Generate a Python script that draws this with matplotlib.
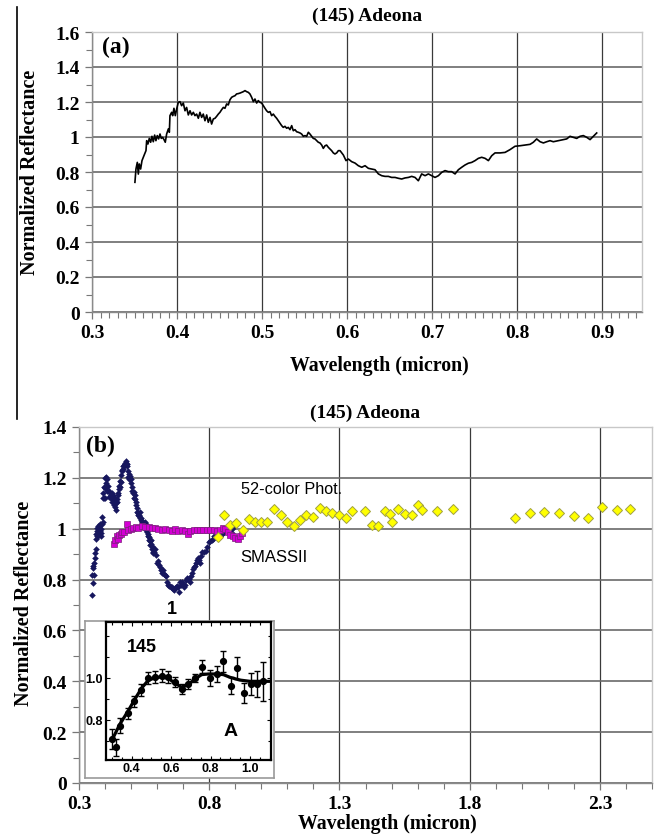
import matplotlib
matplotlib.use("Agg")
import matplotlib.pyplot as plt
from matplotlib.ticker import MultipleLocator, FixedLocator, FuncFormatter
import numpy as np

# ---------------- data ----------------
# (145) Adeona visible spectrum (panel a line, panel b blue diamonds)
spec_wl = [0.3505, 0.3517, 0.3533, 0.3545, 0.3556, 0.3572, 0.3588, 0.3603, 0.3619, 0.3635,
           0.3643, 0.3658, 0.3674, 0.3690, 0.3705, 0.3721, 0.3737, 0.3752, 0.3768, 0.3784,
           0.3800, 0.3815, 0.3831, 0.3847, 0.3862, 0.3878, 0.3898, 0.3910, 0.3917, 0.3937,
           0.3949, 0.3964, 0.3980, 0.3996, 0.4015, 0.4035, 0.4054, 0.4074, 0.4094, 0.4113,
           0.4133, 0.4153, 0.4172, 0.4192, 0.4211, 0.4231, 0.4251, 0.4270, 0.4290, 0.4309,
           0.4329, 0.4349, 0.4368, 0.4388, 0.4407, 0.4427, 0.4447, 0.4466, 0.4486, 0.4505,
           0.4525, 0.4545, 0.4564, 0.4584, 0.4603, 0.4623, 0.4643, 0.4662, 0.4682, 0.4701,
           0.4721, 0.4741, 0.4760, 0.4780, 0.4800, 0.4819, 0.4839, 0.4858, 0.4878, 0.4898,
           0.4917, 0.4937, 0.4956, 0.4976, 0.4996, 0.5015, 0.5035, 0.5054, 0.5074, 0.5094,
           0.5113, 0.5133, 0.5152, 0.5172, 0.5192, 0.5211, 0.5231, 0.5250, 0.5270, 0.5290,
           0.5309, 0.5329, 0.5349, 0.5368, 0.5388, 0.5407, 0.5427, 0.5447, 0.5466, 0.5486,
           0.5505, 0.5525, 0.5545, 0.5564, 0.5584, 0.5603, 0.5623, 0.5643, 0.5662, 0.5682,
           0.5702, 0.5721, 0.5741, 0.5760, 0.5780, 0.5800, 0.5819, 0.5839, 0.5858, 0.5878,
           0.5898, 0.5918, 0.5957, 0.5988, 0.6016, 0.6055, 0.6094, 0.6133, 0.6173, 0.6212,
           0.6251, 0.6290, 0.6329, 0.6369, 0.6408, 0.6447, 0.6486, 0.6525, 0.6565, 0.6604,
           0.6643, 0.6682, 0.6722, 0.6761, 0.6800, 0.6839, 0.6878, 0.6918, 0.6957, 0.6996,
           0.7035, 0.7075, 0.7114, 0.7153, 0.7192, 0.7231, 0.7271, 0.7310, 0.7349, 0.7388,
           0.7427, 0.7467, 0.7506, 0.7545, 0.7584, 0.7624, 0.7663, 0.7702, 0.7741, 0.7800,
           0.7859, 0.7918, 0.7976, 0.8035, 0.8094, 0.8153, 0.8192, 0.8231, 0.8271, 0.8310,
           0.8349, 0.8388, 0.8427, 0.8486, 0.8545, 0.8584, 0.8623, 0.8663, 0.8702, 0.8741,
           0.8780, 0.8820, 0.8859, 0.8898, 0.8937]
spec_refl = [0.741, 0.817, 0.855, 0.788, 0.846, 0.817, 0.865, 0.884, 0.903, 0.922,
             0.979, 0.960, 0.992, 0.970, 1.004, 0.973, 1.011, 0.979, 1.008, 0.989,
             1.017, 0.992, 0.998, 0.985, 0.970, 1.017, 1.046, 1.027, 1.122, 1.141,
             1.122, 1.164, 1.122, 1.160, 1.198, 1.202, 1.179, 1.194, 1.150, 1.169,
             1.126, 1.150, 1.126, 1.141, 1.122, 1.131, 1.107, 1.141, 1.112, 1.131,
             1.093, 1.126, 1.084, 1.112, 1.074, 1.103, 1.107, 1.118, 1.131, 1.141,
             1.156, 1.169, 1.164, 1.189, 1.183, 1.213, 1.227, 1.232, 1.236, 1.246,
             1.248, 1.251, 1.255, 1.259, 1.265, 1.259, 1.255, 1.246, 1.227, 1.202,
             1.217, 1.194, 1.208, 1.198, 1.194, 1.179, 1.164, 1.150, 1.141, 1.145,
             1.122, 1.131, 1.118, 1.107, 1.093, 1.080, 1.065, 1.055, 1.061, 1.050,
             1.055, 1.042, 1.065, 1.036, 1.042, 1.030, 1.027, 1.023, 1.017, 1.004,
             1.008, 1.004, 1.027, 1.017, 1.004, 0.992, 0.989, 0.979, 0.970, 0.966,
             0.954, 0.935, 0.950, 0.954, 0.941, 0.931, 0.922, 0.909, 0.903, 0.909,
             0.922, 0.922, 0.897, 0.865, 0.874, 0.859, 0.851, 0.836, 0.827, 0.836,
             0.821, 0.817, 0.813, 0.789, 0.779, 0.775, 0.775, 0.769, 0.769, 0.764,
             0.760, 0.766, 0.769, 0.775, 0.769, 0.750, 0.789, 0.779, 0.789, 0.779,
             0.769, 0.779, 0.798, 0.808, 0.802, 0.802, 0.789, 0.813, 0.827, 0.840,
             0.850, 0.855, 0.865, 0.878, 0.884, 0.878, 0.865, 0.893, 0.909, 0.909,
             0.912, 0.928, 0.947, 0.950, 0.954, 0.958, 0.970, 0.989, 0.973, 0.966,
             0.973, 0.979, 0.973, 0.979, 0.985, 0.989, 1.004, 0.998, 0.992, 1.004,
             1.008, 0.998, 0.985, 1.004, 1.023]

# SMASSII (magenta squares)
smass_wl = [0.436, 0.440, 0.445, 0.449, 0.454, 0.460, 0.467, 0.474, 0.483, 0.490,
            0.499, 0.509, 0.519, 0.528, 0.541, 0.554, 0.567, 0.580, 0.592, 0.605,
            0.618, 0.631, 0.644, 0.656, 0.669, 0.682, 0.695, 0.708, 0.717, 0.727,
            0.740, 0.753, 0.765, 0.778, 0.791, 0.804, 0.817, 0.830, 0.842, 0.852,
            0.862, 0.871, 0.881, 0.891, 0.900, 0.909, 0.917, 0.924]
smass_refl = [0.941, 0.954, 0.971, 0.961, 0.976, 0.980, 0.987, 0.989, 1.018, 0.993,
              0.997, 1.003, 1.007, 1.003, 1.011, 1.005, 1.005, 1.003, 1.003, 1.000,
              0.996, 1.000, 0.996, 0.992, 0.997, 0.992, 0.996, 0.990, 0.980, 0.990,
              0.995, 0.993, 0.995, 0.996, 0.993, 0.993, 0.996, 0.991, 0.995, 1.003,
              0.997, 0.987, 0.976, 0.971, 0.963, 0.961, 0.971, 0.984]

# 52-color photometry (yellow diamonds)
phot_wl = [0.832, 0.855, 0.878, 0.904, 0.928, 0.952, 0.976, 1.000, 1.022, 1.050,
           1.077, 1.099, 1.124, 1.147, 1.173, 1.199, 1.224, 1.250, 1.273, 1.299,
           1.324, 1.349, 1.400, 1.426, 1.449, 1.474, 1.494, 1.500, 1.526, 1.551,
           1.577, 1.601, 1.618, 1.676, 1.737, 1.973, 2.030, 2.086, 2.142, 2.199,
           2.253, 2.309, 2.364, 2.417]
phot_refl = [0.967, 1.055, 1.016, 1.024, 0.996, 1.039, 1.026, 1.026, 1.026, 1.076,
             1.052, 1.026, 1.010, 1.033, 1.052, 1.048, 1.081, 1.071, 1.063, 1.052,
             1.043, 1.070, 1.070, 1.016, 1.010, 1.071, 1.058, 1.025, 1.079, 1.058,
             1.052, 1.093, 1.075, 1.071, 1.076, 1.042, 1.060, 1.066, 1.060, 1.051,
             1.043, 1.085, 1.074, 1.079]

# inset: ECAS-like points with error bars and smooth curve
ins_wl = [0.302, 0.321, 0.341, 0.380, 0.414, 0.447, 0.485, 0.518, 0.552, 0.586,
          0.620, 0.654, 0.687, 0.721, 0.755, 0.797, 0.831, 0.865, 0.902, 0.936,
          0.970, 1.003, 1.034, 1.064]
ins_refl = [0.710, 0.670, 0.773, 0.832, 0.889, 0.943, 1.000, 1.003, 1.011, 1.003,
            0.979, 0.948, 0.971, 1.000, 1.054, 1.000, 1.019, 1.079, 0.963, 1.048,
            0.927, 0.971, 0.971, 0.984]
ins_err = [0.048, 0.040, 0.035, 0.025, 0.027, 0.027, 0.029, 0.029, 0.032, 0.029,
           0.024, 0.022, 0.024, 0.019, 0.032, 0.040, 0.040, 0.051, 0.041, 0.051,
           0.048, 0.052, 0.062, 0.092]
curve_wl = [0.307, 0.341, 0.383, 0.417, 0.451, 0.485, 0.518, 0.552, 0.586, 0.620,
            0.654, 0.687, 0.721, 0.755, 0.789, 0.831, 0.865, 0.899, 0.949, 1.000,
            1.051, 1.105]
curve_refl = [0.717, 0.781, 0.844, 0.900, 0.952, 0.990, 1.000, 1.006, 0.998, 0.975,
              0.956, 0.968, 0.995, 1.016, 1.019, 1.019, 1.016, 1.003, 0.990, 0.984,
              0.984, 0.984]

title = "(145) Adeona"

# ---------------- style ----------------
SERIF = ['Liberation Serif', 'DejaVu Serif']
SANS = ['Liberation Sans', 'DejaVu Sans']
plt.rcParams['font.family'] = SERIF
plt.rcParams['font.weight'] = 'bold'

fig = plt.figure(figsize=(6.59, 8.37), dpi=100)
W, H = 659.0, 837.0

def fax(l, t, r, b):
    return [l / W, 1 - b / H, (r - l) / W, (b - t) / H]

gfmt = FuncFormatter(lambda v, p: ('%g' % round(v, 3)))

def style_main(ax):
    for s in ['top', 'right']:
        ax.spines[s].set_color('#c8c8c8')
    for s in ['left', 'bottom']:
        ax.spines[s].set_color('#8a8a8a')
    for s in ax.spines.values():
        s.set_linewidth(1.0)
    ax.tick_params(which='major', direction='out', length=5, width=0.9, color='#777777',
                   labelsize=14, pad=4)
    ax.tick_params(which='minor', direction='out', length=4, width=0.8, color='#777777')
    for lab in ax.get_xticklabels() + ax.get_yticklabels():
        lab.set_fontweight('bold')
    ax.grid(True, which='major', axis='x', color='#3a3a3a', linewidth=0.9)
    ax.grid(True, which='major', axis='y', color='#6a6a6a', linewidth=1.2)
    ax.set_axisbelow(True)

# ---------------- panel (a) ----------------
axa = fig.add_axes(fax(92, 33, 642, 313))
axa.plot(spec_wl, spec_refl, color='black', linewidth=1.2)
axa.set_xlim(0.3, 0.947)
axa.set_ylim(0, 1.6)
axa.xaxis.set_major_locator(FixedLocator([0.3, 0.4, 0.5, 0.6, 0.7, 0.8, 0.9]))
axa.xaxis.set_minor_locator(MultipleLocator(0.01))
axa.yaxis.set_major_locator(MultipleLocator(0.2))
axa.yaxis.set_minor_locator(MultipleLocator(0.1))
axa.xaxis.set_major_formatter(FuncFormatter(lambda v, p: '%.1f' % v))
axa.yaxis.set_major_formatter(gfmt)
style_main(axa)
axa.tick_params(axis='x', which='minor', length=4)
axa.set_title(title, fontsize=14, fontweight='bold', pad=9)
axa.set_xlabel('Wavelength (micron)', fontsize=14.3, fontweight='bold')
axa.set_ylabel('Normalized Reflectance', fontsize=14.5, fontweight='bold')
axa.xaxis.set_label_coords(0.522, -0.155)
axa.yaxis.set_label_coords(-0.095, 0.504)
axa.text(0.312, 1.52, '(a)', fontsize=17, fontweight='bold', va='center', ha='left')

# ---------------- panel (b) ----------------
axb = fig.add_axes(fax(79, 428, 652, 784))
axb.plot(spec_wl, spec_refl, linestyle='none', marker='D', markersize=3.0,
         color='#17175e', markeredgewidth=0.3, zorder=3)
axb.plot(smass_wl, smass_refl, linestyle='none', marker='s', markersize=4.4,
         markerfacecolor='#d400d4', markeredgecolor='#7a207a', markeredgewidth=0.5, zorder=4)
axb.plot(phot_wl, phot_refl, linestyle='none', marker='D', markersize=5.0,
         markerfacecolor='#ffff00', markeredgecolor='#a0a040', markeredgewidth=0.7, zorder=5)
axb.set_xlim(0.3, 2.5)
axb.set_ylim(0, 1.4)
axb.xaxis.set_major_locator(FixedLocator([0.3, 0.8, 1.3, 1.8, 2.3]))
axb.xaxis.set_minor_locator(MultipleLocator(0.1))
axb.yaxis.set_major_locator(MultipleLocator(0.2))
axb.yaxis.set_minor_locator(MultipleLocator(0.1))
axb.xaxis.set_major_formatter(gfmt)
axb.yaxis.set_major_formatter(gfmt)
style_main(axb)
axb.set_title(title, fontsize=14, fontweight='bold', pad=7)
axb.set_xlabel('Wavelength (micron)', fontsize=14.3, fontweight='bold')
axb.set_ylabel('Normalized Reflectance', fontsize=14.5, fontweight='bold')
axb.xaxis.set_label_coords(0.538, -0.083)
axb.yaxis.set_label_coords(-0.079, 0.506)
axb.text(0.327, 1.327, '(b)', fontsize=17, fontweight='bold', va='center', ha='left')
axb.text(0.923, 1.157, '52-color Phot.', fontsize=11.7, family=SANS, fontweight='normal',
         va='center', ha='left')
axb.text(0.919, 0.89, 'SMASSII', fontsize=12, family=SANS, fontweight='normal',
         va='center', ha='left')
axb.text(0.658, 0.685, '1', fontsize=13, family=SANS, fontweight='bold',
         va='center', ha='center')

# ---------------- inset ----------------
box = fig.add_axes(fax(85, 621.7, 274.3, 779))
box.set_zorder(2)
box.set_facecolor('white')
box.set_xticks([])
box.set_yticks([])
for s in box.spines.values():
    s.set_color('#9a9a9a')
    s.set_linewidth(1.2)

axi = fig.add_axes(fax(106, 623.3, 270.7, 760.7))
axi.set_zorder(3)
axi.set_facecolor('white')
axi.plot(curve_wl, curve_refl, color='black', linewidth=2.3, zorder=3)
axi.errorbar(ins_wl, ins_refl, yerr=ins_err, fmt='o', color='black', markersize=4.2,
             elinewidth=1.0, capsize=2.0, capthick=1.0, zorder=4)
axi.set_xlim(0.27, 1.105)
axi.set_ylim(0.611, 1.265)
axi.xaxis.set_major_locator(FixedLocator([0.4, 0.6, 0.8, 1.0]))
axi.xaxis.set_minor_locator(MultipleLocator(0.05))
axi.yaxis.set_major_locator(FixedLocator([0.8, 1.0]))
axi.yaxis.set_minor_locator(FixedLocator([0.7, 0.9, 1.1, 1.2]))
axi.xaxis.set_major_formatter(FuncFormatter(lambda v, p: '%.1f' % v))
axi.yaxis.set_major_formatter(FuncFormatter(lambda v, p: '%.1f' % v))
axi.tick_params(which='both', direction='in', top=True, right=True, width=0.8,
                labelsize=9, pad=2, color='black')
axi.tick_params(which='major', length=3)
axi.tick_params(which='minor', length=2)
for lab in axi.get_xticklabels() + axi.get_yticklabels():
    lab.set_family(SANS)
    lab.set_fontweight('bold')
for s in axi.spines.values():
    s.set_linewidth(1.6)
    s.set_color('black')
axi.text(0.376, 1.152, '145', fontsize=13, family=SANS, fontweight='bold',
         va='center', ha='left')
axi.text(0.904, 0.752, 'A', fontsize=14, family=SANS, fontweight='bold',
         va='center', ha='center')

# left border line of the figure
fig.add_artist(plt.Line2D([17 / W, 17 / W], [1 - 8 / H, 1 - 420 / H], color='black',
                          linewidth=1.2, transform=fig.transFigure))

fig.savefig('out.png', dpi=100)
